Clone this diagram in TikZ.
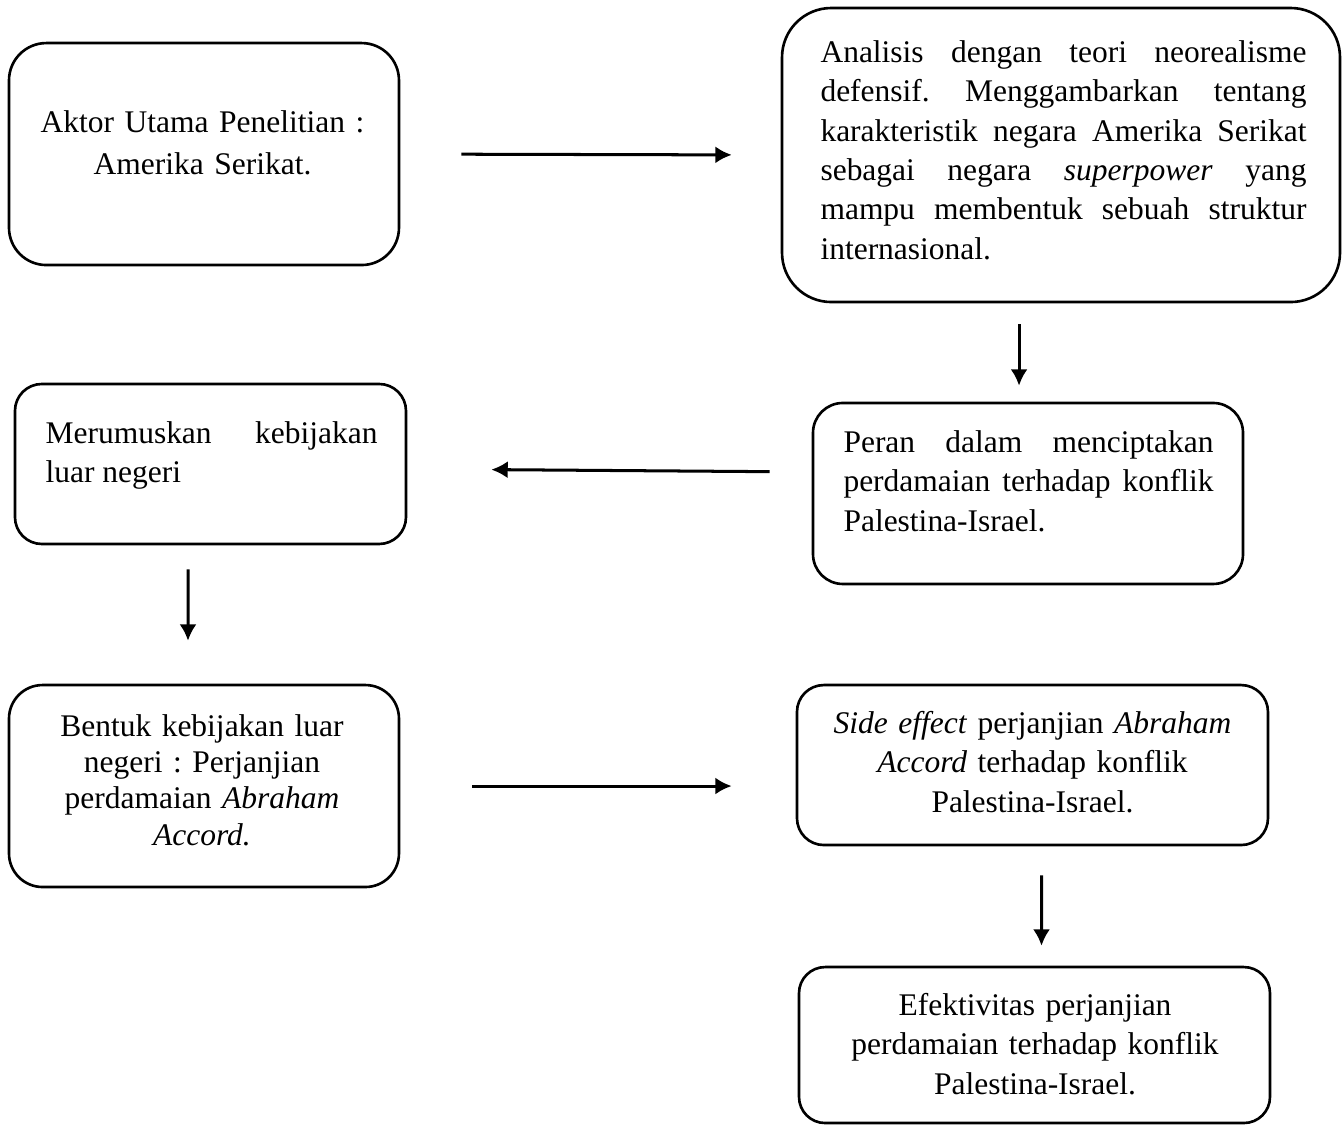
\documentclass[tikz,border=0pt]{standalone}
\usepackage{fontspec}
\setmainfont{Liberation Serif}
\usetikzlibrary{arrows.meta}
\tolerance=10000
\hyphenpenalty=10000
\frenchspacing

\begin{document}
\begin{tikzpicture}[
        flowbox/.style = {draw, line width = 1pt, inner sep = 0pt},
        boxtext/.style = {inner sep = 0pt, font = {\fontsize{12}{#1}\selectfont}},
        boxtext/.default = 15,
        flowarrow/.style = {-{Latex[length = 0.22cm, width = 0.23cm]}, line width = 1.15pt}
    ]
        \useasboundingbox (0, 0) rectangle (18, -15.067);
        \node[flowbox, minimum width = 5.223cm, minimum height = 2.973cm, rounded corners = 0.5cm] (aktor) at (2.732, -2.063) {};
        \node[flowbox, minimum width = 7.473cm, minimum height = 3.938cm, rounded corners = 0.66cm] (analisis) at (14.210, -2.076) {};
        \node[flowbox, minimum width = 5.237cm, minimum height = 2.143cm, rounded corners = 0.36cm] (rumus) at (2.819, -6.214) {};
        \node[flowbox, minimum width = 5.759cm, minimum height = 2.424cm, rounded corners = 0.4cm] (peran) at (13.768, -6.609) {};
        \node[flowbox, minimum width = 5.223cm, minimum height = 2.705cm, rounded corners = 0.45cm] (bentuk) at (2.732, -10.527) {};
        \node[flowbox, minimum width = 6.308cm, minimum height = 2.143cm, rounded corners = 0.36cm] (sideeffect) at (13.828, -10.246) {};
        \node[flowbox, minimum width = 6.308cm, minimum height = 2.089cm, rounded corners = 0.35cm] (efektivitas) at (13.855, -13.996) {};

        \node[boxtext = 15.8, text width = 5cm, align = center, anchor = base] (aktortext) at (2.712, -1.781) {Aktor Utama Penelitian :\\ Amerika Serikat.};
        \node[boxtext = 15, text width = 6.509cm, align = justify, anchor = base west] (analisistext) at (10.982, -0.837) {Analisis dengan teori neorealisme\linebreak defensif. Menggambarkan tentang\linebreak karakteristik negara Amerika Serikat\linebreak sebagai negara \textit{superpower} yang\linebreak mampu membentuk sebuah struktur\linebreak internasional.};
        \node[boxtext = 15.2, text width = 4.447cm, align = justify, anchor = base west] (rumustext) at (0.603, -5.933) {Merumuskan kebijakan\linebreak luar negeri};
        \node[boxtext = 15.2, text width = 4.955cm, align = justify, anchor = base west] (perantext) at (11.290, -6.054) {Peran dalam menciptakan\linebreak perdamaian terhadap konflik\linebreak Palestina-Israel.};
        \node[boxtext = 13.85, text width = 5cm, align = center, anchor = base] (bentuktext) at (2.705, -9.857) {Bentuk kebijakan luar\\ negeri : Perjanjian\\ perdamaian \textit{Abraham}\\ \textit{Accord.}};
        \node[boxtext = 15.2, text width = 6cm, align = center, anchor = base] (sideeffecttext) at (13.828, -9.817) {\textit{Side effect} perjanjian \textit{Abraham}\\ \textit{Accord} terhadap konflik\\ Palestina-Israel.};
        \node[boxtext = 15.2, text width = 6cm, align = center, anchor = base] (efektivitastext) at (13.862, -13.594) {Efektivitas perjanjian\\ perdamaian terhadap konflik\\ Palestina-Israel.};

        \draw[flowarrow, shorten < = 0.817cm, shorten > = 0.656cm] (aktor.east) -- (analisis.west);
        \draw[flowarrow, shorten < = 0.281cm, shorten > = 0.214cm] ([xshift = -0.562cm]analisis.south) -- ([xshift = -0.12cm]peran.north);
        \draw[flowarrow, shorten < = 0.563cm, shorten > = 1.125cm] ([yshift = 0.288cm]peran.west) -- ([yshift = -0.067cm]rumus.east);
        \draw[flowarrow, shorten < = 0.321cm, shorten > = 0.576cm] ([xshift = -0.301cm]rumus.south) -- ([xshift = -0.214cm]bentuk.north);
        \draw[flowarrow, shorten < = 0.964cm, shorten > = 0.857cm] (bentuk.east) -- (bentuk.east -| sideeffect.west);
        \draw[flowarrow, shorten < = 0.388cm, shorten > = 0.268cm] ([xshift = 0.121cm]sideeffect.south) -- ([xshift = 0.094cm]efektivitas.north);
    \end{tikzpicture}
\end{document}
